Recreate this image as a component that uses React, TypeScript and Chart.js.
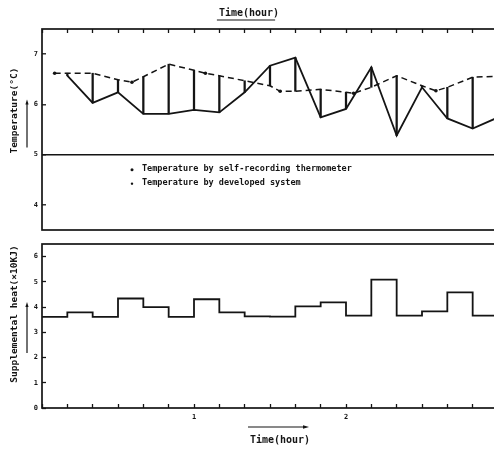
import React, { useEffect, useRef } from 'react';
import { Chart, registerables } from 'chart.js';

Chart.register(...registerables);

const FONT = '"DejaVu Sans Mono", "Liberation Mono", monospace';
const INK = '#141414';

// time in minutes
const recorderMinutes = [10, 20, 30, 40, 50, 60, 70, 80, 90, 100, 110, 120, 130, 140, 150, 160, 170, 180];
const recorderTemps = [6.57, 6.03, 6.24, 5.81, 5.81, 5.89, 5.84, 6.24, 6.77, 6.93, 5.74, 5.91, 6.74, 5.38, 6.34, 5.72, 5.52, 5.74];

const systemMinutes = [5, 10, 20, 30, 35.5, 40, 50, 60, 64.5, 70, 80, 90, 94, 100, 110, 120, 123, 130, 140, 150, 155.5, 160, 170, 180];
const systemTemps = [6.62, 6.62, 6.62, 6.49, 6.44, 6.55, 6.8, 6.68, 6.62, 6.57, 6.47, 6.37, 6.26, 6.26, 6.3, 6.24, 6.22, 6.34, 6.57, 6.37, 6.27, 6.34, 6.54, 6.56];

const heatStartMinutes = [0, 10, 20, 30, 40, 50, 60, 70, 80, 90, 100, 110, 120, 130, 140, 150, 160, 170];
const heatValues = [3.61, 3.79, 3.61, 4.34, 4.0, 3.61, 4.31, 3.79, 3.63, 3.62, 4.03, 4.19, 3.66, 5.09, 3.66, 3.83, 4.58, 3.66];
const heatEndMinute = 180;

const tempTicks = [4, 5, 6, 7];
const heatTicks = [0, 1, 2, 3, 4, 5, 6];
const timeTickStep = 10;

const recorderLabel = 'Temperature by self-recording thermometer';
const systemLabel = 'Temperature by developed system';

const decorPlugin = {
  id: 'decor',
  afterDraw(chart: any, _args: any, opts: any) {
    const { ctx, chartArea: a } = chart;
    ctx.save();
    ctx.strokeStyle = INK;
    ctx.fillStyle = INK;
    ctx.lineWidth = 1.7;
    ctx.strokeRect(a.left, a.top, a.right - a.left, a.bottom - a.top);

    const midY = (a.top + a.bottom) / 2;
    const midX = (a.left + a.right) / 2;

    if (opts.yTitle) {
      const cy = midY + opts.yTitleShift;
      ctx.save();
      ctx.translate(15, cy);
      ctx.rotate(-Math.PI / 2);
      ctx.font = `bold 9.5px ${FONT}`;
      ctx.textAlign = 'center';
      ctx.textBaseline = 'middle';
      ctx.fillText(opts.yTitle, 0, 0);
      ctx.restore();
      const ax = 27;
      const y1 = cy + opts.arrowFrom;
      const y2 = cy + opts.arrowTo;
      ctx.lineWidth = 1.2;
      ctx.beginPath();
      ctx.moveTo(ax, y2);
      ctx.lineTo(ax, y1);
      ctx.stroke();
      ctx.beginPath();
      ctx.moveTo(ax, y1 - 3);
      ctx.lineTo(ax - 1.6, y1 + 2);
      ctx.lineTo(ax + 1.6, y1 + 2);
      ctx.closePath();
      ctx.fill();
    }

    if (opts.underlineTitle && chart.titleBlock) {
      const tb = chart.titleBlock;
      ctx.font = `bold 10px ${FONT}`;
      const w = ctx.measureText(chart.options.plugins.title.text).width;
      const cx = tb.left + tb.width / 2;
      ctx.lineWidth = 1.2;
      ctx.beginPath();
      ctx.moveTo(cx - w / 2 - 2, tb.top + 20);
      ctx.lineTo(cx + w / 2 - 4, tb.top + 20);
      ctx.stroke();
    }

    if (opts.legend) {
      const ys = chart.scales.y;
      const base = ys.getPixelForValue(5);
      ctx.font = `bold 8.5px ${FONT}`;
      ctx.textAlign = 'left';
      ctx.textBaseline = 'middle';
      const labels = chart.data.datasets.filter((d: any) => d.label).map((d: any) => d.label);
      labels.forEach((label: string, i: number) => {
        const y = base + 14 + i * 14;
        ctx.beginPath();
        ctx.arc(a.left + 90, y + 1, i === 0 ? 1.5 : 1.2, 0, Math.PI * 2);
        ctx.fill();
        ctx.fillText(label, a.left + 100, y);
      });
    }

    if (opts.xTitle) {
      const cx = midX + 10;
      ctx.font = `bold 10px ${FONT}`;
      ctx.textAlign = 'center';
      ctx.textBaseline = 'middle';
      ctx.fillText(opts.xTitle, cx, a.bottom + 32);
      const ay = a.bottom + 19;
      ctx.lineWidth = 1.2;
      ctx.beginPath();
      ctx.moveTo(cx - 32, ay);
      ctx.lineTo(cx + 25, ay);
      ctx.stroke();
      ctx.beginPath();
      ctx.moveTo(cx + 29, ay);
      ctx.lineTo(cx + 23, ay - 1.8);
      ctx.lineTo(cx + 23, ay + 1.8);
      ctx.closePath();
      ctx.fill();
    }
    ctx.restore();
  },
};

const tickFont = { family: FONT, size: 7, weight: 'bold' as const };

const fixYAxis = (s: any) => {
  s.width = 42;
  s.paddingTop = 0;
  s.paddingBottom = 0;
};

export default function App() {
  const topRef = useRef<HTMLCanvasElement>(null);
  const botRef = useRef<HTMLCanvasElement>(null);

  useEffect(() => {
    if (!topRef.current || !botRef.current) return;

    const connectors = recorderMinutes
      .map((t, i) => {
        const j = systemMinutes.indexOf(t);
        return j < 0 ? null : { x: t, y: [recorderTemps[i], systemTemps[j]] };
      })
      .filter(Boolean);

    const top = new Chart(topRef.current, {
      type: 'line',
      data: {
        datasets: [
          {
            label: recorderLabel,
            data: recorderMinutes.map((t, i) => ({ x: t, y: recorderTemps[i] })),
            borderColor: INK,
            borderWidth: 1.8,
            pointRadius: 0,
            tension: 0,
          },
          {
            label: systemLabel,
            data: systemMinutes.map((t, i) => ({ x: t, y: systemTemps[i] })),
            borderColor: INK,
            borderWidth: 1.5,
            borderDash: [6, 4],
            pointRadius: (c: any) => (systemMinutes[c.dataIndex] % timeTickStep !== 0 ? 1.8 : 0),
            pointBackgroundColor: INK,
            pointBorderWidth: 0,
            tension: 0,
          },
          {
            type: 'bar',
            data: connectors as any,
            backgroundColor: INK,
            borderWidth: 0,
            barThickness: 1.6,
            grouped: false,
          } as any,
        ],
      },
      options: {
        animation: false,
        responsive: true,
        maintainAspectRatio: false,
        layout: { padding: { top: 0, bottom: 7, left: 0, right: 12 } },
        plugins: {
          legend: { display: false },
          tooltip: { enabled: false },
          title: {
            display: true,
            text: 'Time(hour)',
            color: INK,
            font: { family: FONT, size: 10, weight: 'bold' },
            padding: { top: 7, bottom: 10 },
          },
          decor: {
            yTitle: 'Temperature(°C)',
            yTitleShift: -19,
            arrowFrom: -8,
            arrowTo: 37,
            underlineTitle: true,
            legend: true,
          },
        } as any,
        scales: {
          x: {
            type: 'linear',
            position: 'top',
            min: 0,
            max: heatEndMinute,
            offset: false,
            border: { display: false },
            grid: {
              display: true,
              offset: false,
              drawOnChartArea: false,
              tickLength: -4,
              tickColor: INK,
              tickWidth: 1.3,
            },
            ticks: { display: false, stepSize: timeTickStep, autoSkip: false },
            afterFit: (s: any) => {
              s.height = 0;
            },
          },
          y: {
            type: 'linear',
            min: 3.5,
            max: 7.5,
            beginAtZero: false,
            border: { display: false },
            grid: {
              display: true,
              drawOnChartArea: true,
              color: (c: any) => (c.tick && c.tick.value === 5 ? INK : 'rgba(0,0,0,0)'),
              lineWidth: 1.6,
              tickLength: -4,
              tickColor: INK,
              tickWidth: 1.3,
            },
            ticks: { color: INK, font: tickFont, padding: 8 },
            afterBuildTicks: (s: any) => {
              s.ticks = tempTicks.map((v) => ({ value: v }));
            },
            afterFit: fixYAxis,
          },
        },
      } as any,
      plugins: [decorPlugin],
    });

    const heatPoints = heatStartMinutes.map((t, i) => ({ x: t, y: heatValues[i] }));
    heatPoints.push({ x: heatEndMinute, y: heatValues[heatValues.length - 1] });

    const bottom = new Chart(botRef.current, {
      type: 'line',
      data: {
        datasets: [
          {
            data: heatPoints,
            borderColor: INK,
            borderWidth: 1.8,
            pointRadius: 0,
            stepped: true,
          },
        ],
      },
      options: {
        animation: false,
        responsive: true,
        maintainAspectRatio: false,
        layout: { padding: { top: 7, bottom: 0, left: 0, right: 12 } },
        plugins: {
          legend: { display: false },
          tooltip: { enabled: false },
          decor: {
            yTitle: 'Supplemental heat(×10KJ)',
            yTitleShift: -12,
            arrowFrom: -9,
            arrowTo: 39,
            xTitle: 'Time(hour)',
          },
        } as any,
        scales: {
          x: {
            type: 'linear',
            position: 'bottom',
            min: 0,
            max: heatEndMinute,
            offset: false,
            border: { display: false },
            grid: {
              display: true,
              offset: false,
              drawOnChartArea: false,
              tickLength: -4,
              tickColor: INK,
              tickWidth: 1.3,
            },
            ticks: {
              stepSize: timeTickStep,
              autoSkip: false,
              maxRotation: 0,
              color: INK,
              font: tickFont,
              padding: 9,
              callback: (v: any) => (v > 0 && v % 60 === 0 ? String(v / 60) : ''),
            },
            afterFit: (s: any) => {
              s.height = 41;
            },
          },
          y: {
            type: 'linear',
            min: 0,
            max: 6.5,
            border: { display: false },
            grid: {
              display: true,
              drawOnChartArea: false,
              tickLength: -4,
              tickColor: INK,
              tickWidth: 1.3,
            },
            ticks: { color: INK, font: tickFont, padding: 8 },
            afterBuildTicks: (s: any) => {
              s.ticks = heatTicks.map((v) => ({ value: v }));
            },
            afterFit: fixYAxis,
          },
        },
      } as any,
      plugins: [decorPlugin],
    });

    return () => {
      top.destroy();
      bottom.destroy();
    };
  }, []);

  return (
    <div style={{ position: 'absolute', left: 0, top: 0, width: 494, height: 449, overflow: 'hidden', background: '#fff' }}>
      <div style={{ position: 'absolute', left: 0, top: 0, width: 510, height: 237 }}>
        <canvas ref={topRef} style={{ display: 'block' }} />
      </div>
      <div style={{ position: 'absolute', left: 0, top: 237, width: 510, height: 212 }}>
        <canvas ref={botRef} style={{ display: 'block' }} />
      </div>
    </div>
  );
}
